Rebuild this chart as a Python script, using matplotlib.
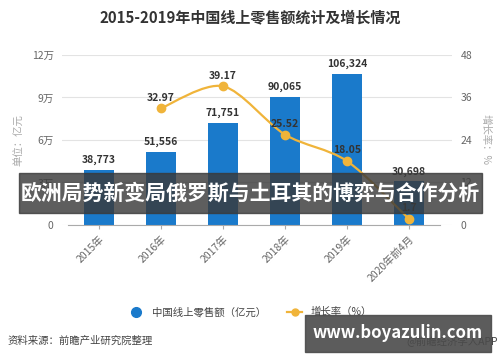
import matplotlib
matplotlib.use('Agg')
import matplotlib.pyplot as plt
from matplotlib.lines import Line2D
from matplotlib.path import Path
from matplotlib.patches import PathPatch, Rectangle
import numpy as np

plt.rcParams['font.family'] = ['Noto Sans CJK SC', 'DejaVu Sans']

years = ['2015年', '2016年', '2017年', '2018年', '2019年', '2020年前4月']
sales = [38773, 51556, 71751, 90065, 106324, 30698]
growth = [np.nan, 32.97, 39.17, 25.52, 18.05, 1.7]
left_ticks = [0, 30000, 60000, 90000, 120000]
left_labels = ['0', '3万', '6万', '9万', '12万']
right_ticks = [0, 12, 24, 36, 48]

bar_color = '#1a7acb'
line_color = '#f0b43a'
grey = '#666666'

fig = plt.figure(figsize=(5.0, 3.62), dpi=100)
ax = fig.add_axes([0.124, 0.3785, 0.78, 0.4696])
ax2 = ax.twinx()

x = np.arange(len(years))
ax.bar(x, sales, width=0.47, color=bar_color, zorder=2)
for xi, v in zip(x, sales):
    ax.text(xi, v + 3500, f'{v:,}', ha='center', va='bottom', fontsize=7.5,
            fontweight='bold', color='#333333')

ax.set_xlim(-0.597, 5.694)
ax.set_ylim(0, 120000)
ax.set_yticks(left_ticks)
ax.set_yticklabels(left_labels)
ax.grid(axis='y', color='#e3e3e3', linewidth=0.8, zorder=0)
ax.set_axisbelow(True)
for s in ['top', 'right', 'left']:
    ax.spines[s].set_visible(False)
ax.spines['bottom'].set_color('#aaaaaa')
ax.spines['bottom'].set_bounds(-0.5, 5.5)
ax.tick_params(axis='y', length=0, labelsize=7.5, labelcolor=grey, pad=6)
ax.tick_params(axis='x', length=3, color='#aaaaaa', labelsize=7.5, labelcolor=grey)
ax.set_xticks(x)
ax.set_xticklabels(years, rotation=45, ha='right', rotation_mode='anchor')
ax.set_ylabel('单位：亿元', fontsize=7.5, color='#aaaaaa', labelpad=5)

# smoothed growth line drawn as bezier path through the data points
gx = x[1:]
gy = np.array(growth[1:])
verts = [(gx[0], gy[0])]
codes = [Path.MOVETO]
t = 0.3
for i in range(len(gx) - 1):
    p0 = (gx[i - 1], gy[i - 1]) if i > 0 else (gx[i], gy[i])
    p1 = (gx[i], gy[i])
    p2 = (gx[i + 1], gy[i + 1])
    p3 = (gx[i + 2], gy[i + 2]) if i + 2 < len(gx) else p2
    c1 = (p1[0] + (p2[0] - p0[0]) * t / 2, p1[1] + (p2[1] - p0[1]) * t / 2)
    c2 = (p2[0] - (p3[0] - p1[0]) * t / 2, p2[1] - (p3[1] - p1[1]) * t / 2)
    verts += [c1, c2, p2]
    codes += [Path.CURVE4] * 3
ax2.add_patch(PathPatch(Path(verts, codes), fill=False, edgecolor=line_color,
                        linewidth=1.6, zorder=3))
ax2.plot(gx, gy, 'o', color=line_color, markersize=6, zorder=4)
for xi, v in zip(gx, gy):
    ax2.text(xi, v + 1.6, f'{v:g}', ha='center', va='bottom', fontsize=7.5,
             fontweight='bold', color='#333333', zorder=5)

ax2.set_ylim(0, 48)
ax2.set_yticks(right_ticks)
for s in ['top', 'right', 'left', 'bottom']:
    ax2.spines[s].set_visible(False)
ax2.tick_params(axis='y', length=0, labelsize=7.5, labelcolor=grey, pad=6)
ax2.set_ylabel('增长率：%', fontsize=7.5, color='#aaaaaa', rotation=-90,
               va='bottom', labelpad=6)

fig.text(0.5, 0.953, '2015-2019年中国线上零售额统计及增长情况', ha='center', va='center',
         fontsize=10.8, fontweight='bold', color='#333333')

handles = [Line2D([], [], marker='o', linestyle='none', color=bar_color, markersize=7),
           Line2D([], [], marker='o', color=line_color, markersize=5, linewidth=1.6)]
fig.legend(handles, ['中国线上零售额（亿元）', '增长率（%）'], loc='center',
           bbox_to_anchor=(0.5, 0.138), ncol=2, frameon=False, fontsize=7.5,
           handlelength=1.5, columnspacing=2.0, labelcolor='#444444')

fig.text(0.016, 0.06, '资料来源：前瞻产业研究院整理', ha='left', va='center',
         fontsize=7.5, color='#444444')
fig.text(0.995, 0.06, '@前瞻经济学人APP', ha='right', va='center',
         fontsize=7.5, color='#444444')

# overlay banner
fig.patches.append(Rectangle((0.038, 1 - 213 / 362), 0.926, 40 / 362,
                             transform=fig.transFigure, color='#3a3a3a', alpha=0.82, zorder=10))
fig.text(0.5, 1 - 193 / 362, '欧洲局势新变局俄罗斯与土耳其的博弈与合作分析', ha='center',
         va='center', fontsize=15, fontweight='bold', color='white', zorder=11)
fig.patches.append(Rectangle((0.61, 1 - 352 / 362), 0.372, 37 / 362,
                             transform=fig.transFigure, color='#4a4a4a', alpha=0.9, zorder=10))
fig.text(0.796, 1 - 333 / 362, 'www.boyazulin.com', ha='center', va='center',
         fontsize=12, fontweight='bold', color='white', zorder=11)

fig.savefig('out.png', dpi=100)
